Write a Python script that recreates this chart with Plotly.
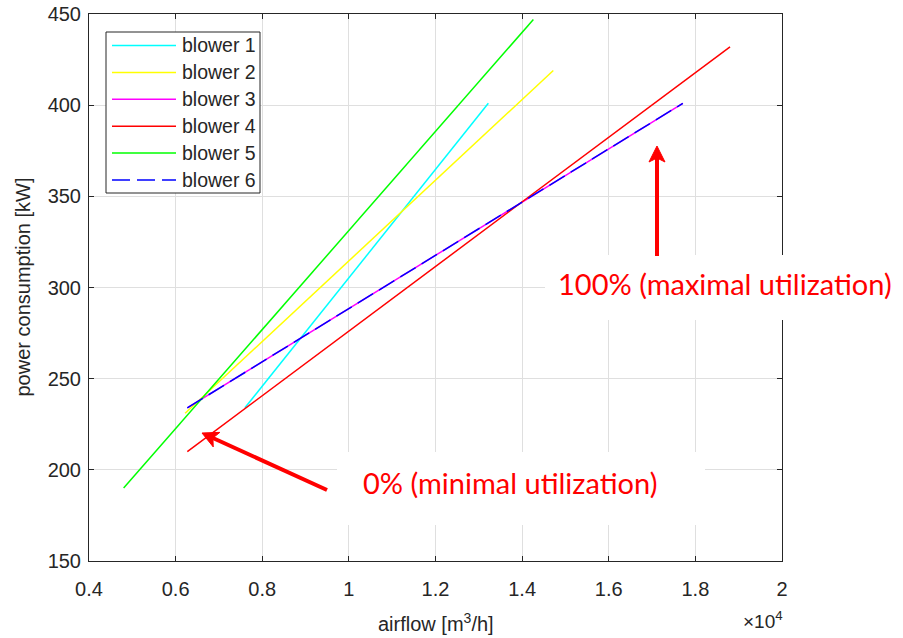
import math
import plotly.graph_objects as go

# Blower characteristic lines: airflow [m3/h] vs. power consumption [kW]
# (first point = 0 % utilization, last point = 100 % utilization)
blower_names = ["blower 1", "blower 2", "blower 3", "blower 4", "blower 5", "blower 6"]
airflow_1 = [7600, 13220]
power_1 = [234, 401]
airflow_2 = [6220, 14720]
power_2 = [231, 419]
airflow_3 = [6270, 17710]
power_3 = [234, 401]
airflow_4 = [6270, 18800]
power_4 = [210, 432]
airflow_5 = [4800, 14260]
power_5 = [190, 447]
airflow_6 = [6270, 17710]
power_6 = [234, 401]

x_tick_vals = [4000, 6000, 8000, 10000, 12000, 14000, 16000, 18000, 20000]
x_tick_text = ["0.4", "0.6", "0.8", "1", "1.2", "1.4", "1.6", "1.8", "2"]
y_tick_vals = [150, 200, 250, 300, 350, 400, 450]

colors = ["#00ffff", "#ffff00", "#ff00ff", "#ff0000", "#00ff00", "#0000ff"]
dashes = ["solid", "solid", "solid", "solid", "solid", "18px,7px"]
series = [(airflow_1, power_1), (airflow_2, power_2), (airflow_3, power_3),
          (airflow_4, power_4), (airflow_5, power_5), (airflow_6, power_6)]

W, H = 903, 638
ML, MR, MT, MB = 89, 121, 14, 77
PW, PH = W - ML - MR, H - MT - MB


def px(x):
    return (x - ML) / PW


def py(y):
    return 1 - (y - MT) / PH


TXT = "#262626"
RED = "#ff0000"
FONT = "Liberation Sans, Arial, Helvetica, sans-serif"
RED_FONT = "Lato, Open Sans, sans-serif"

fig = go.Figure()
for name, (xs, ys), c, d in zip(blower_names, series, colors, dashes):
    fig.add_trace(go.Scatter(x=xs, y=ys, mode="lines", name=name,
                             line=dict(color=c, width=1.5, dash=d),
                             showlegend=False, hoverinfo="skip"))

shapes = []
annotations = []

# white boxes behind the callout texts
shapes.append(dict(type="rect", xref="paper", yref="paper", layer="above",
                   x0=px(545), x1=px(903), y0=py(320), y1=py(255),
                   fillcolor="white", line=dict(width=0)))
shapes.append(dict(type="rect", xref="paper", yref="paper", layer="above",
                   x0=px(337), x1=px(705), y0=py(525), y1=py(452),
                   fillcolor="white", line=dict(width=0)))


def arrow(tail, tip, head_len=16, half_w=8, notch=4, width=4):
    """Thick arrow from tail to tip, given in pixel positions."""
    dx, dy = tip[0] - tail[0], tip[1] - tail[1]
    n = math.hypot(dx, dy)
    ux, uy = dx / n, dy / n
    vx, vy = -uy, ux
    bx, by = tip[0] - head_len * ux, tip[1] - head_len * uy
    kx, ky = tip[0] - (head_len - notch) * ux, tip[1] - (head_len - notch) * uy
    pts = [tip, (bx + half_w * vx, by + half_w * vy), (kx, ky),
           (bx - half_w * vx, by - half_w * vy)]
    path = "M " + " L ".join(f"{px(a):.5f},{py(b):.5f}" for a, b in pts) + " Z"
    return [
        dict(type="line", xref="paper", yref="paper", layer="above",
             x0=px(tail[0]), y0=py(tail[1]), x1=px(kx), y1=py(ky),
             line=dict(color=RED, width=width)),
        dict(type="path", xref="paper", yref="paper", layer="above", path=path,
             fillcolor=RED, line=dict(color=RED, width=1)),
    ]


shapes += arrow((657, 256), (657, 146))
shapes += arrow((327, 490), (202, 433))

# legend box
shapes.append(dict(type="rect", xref="paper", yref="paper", layer="above",
                   x0=px(106), x1=px(260), y0=py(193), y1=py(32),
                   fillcolor="white", line=dict(color=TXT, width=1)))
row_y = [45.5, 72.4, 99.3, 126.2, 153.1, 180.0]
for name, c, d, ry in zip(blower_names, colors, dashes, row_y):
    shapes.append(dict(type="line", xref="paper", yref="paper", layer="above",
                       x0=px(112), x1=px(176), y0=py(ry), y1=py(ry),
                       line=dict(color=c, width=1.5, dash=d)))
    annotations.append(dict(text=name, xref="paper", yref="paper",
                            x=px(180), y=py(ry), xanchor="left", yanchor="middle",
                            showarrow=False, font=dict(family=FONT, size=19.5, color=TXT)))

# axis titles and exponent
annotations.append(dict(text="airflow [m<sup>3</sup>/h]", xref="paper", yref="paper",
                        x=0.5, y=py(622), xanchor="center", yanchor="middle",
                        showarrow=False, font=dict(family=FONT, size=20, color=TXT)))
annotations.append(dict(text="power consumption [kW]", xref="paper", yref="paper",
                        x=px(22), y=0.5, xanchor="center", yanchor="middle", textangle=-90,
                        showarrow=False, font=dict(family=FONT, size=20, color=TXT)))
annotations.append(dict(text="\u00d710<sup>4</sup>", xref="paper", yref="paper",
                        x=px(785), y=py(620), xanchor="right", yanchor="middle",
                        showarrow=False, font=dict(family=FONT, size=19, color=TXT)))

# callouts
annotations.append(dict(text="100% (maximal utilization)", xref="paper", yref="paper",
                        x=px(725), y=py(283), xanchor="center", yanchor="middle",
                        showarrow=False, font=dict(family=RED_FONT, size=29, color=RED)))
annotations.append(dict(text="0% (minimal utilization)", xref="paper", yref="paper",
                        x=px(510), y=py(482), xanchor="center", yanchor="middle",
                        showarrow=False, font=dict(family=RED_FONT, size=29, color=RED)))

axis_common = dict(showgrid=True, gridcolor="#dfdfdf", gridwidth=1,
                   showline=True, linecolor=TXT, linewidth=1, mirror="ticks",
                   ticks="inside", ticklen=5, tickcolor=TXT, zeroline=False,
                   automargin=False,
                   tickfont=dict(family=FONT, size=20, color=TXT))

fig.update_layout(
    width=W, height=H,
    margin=dict(l=ML, r=MR, t=MT, b=MB),
    paper_bgcolor="white", plot_bgcolor="white",
    xaxis=dict(range=[4000, 20000], tickvals=x_tick_vals, ticktext=x_tick_text,
               ticklabelstandoff=10, **axis_common),
    yaxis=dict(range=[150, 450], tickvals=y_tick_vals, ticklabelstandoff=3, **axis_common),
    shapes=shapes, annotations=annotations, showlegend=False,
)

fig.write_html("out.html")
